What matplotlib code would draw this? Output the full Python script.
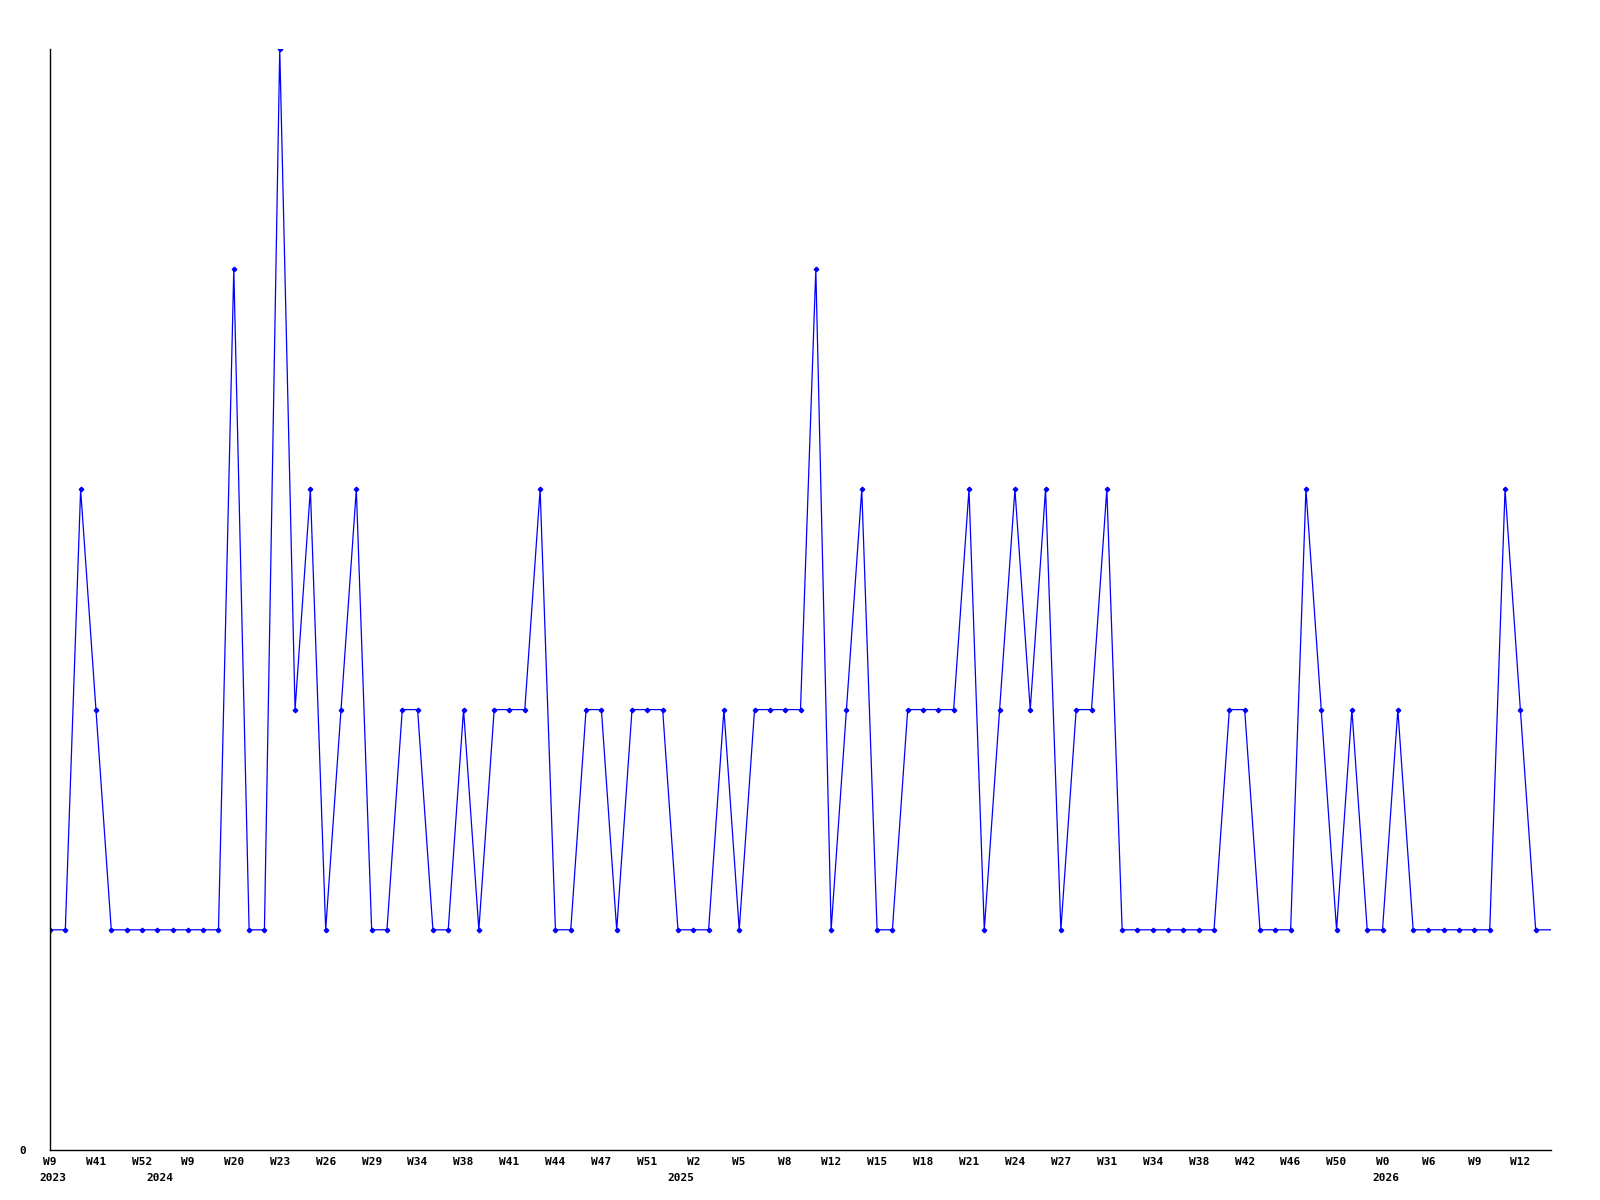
import matplotlib
matplotlib.use("Agg")
import matplotlib.pyplot as plt

# valori settimanali (l'ultimo punto chiude la linea fino al bordo, senza marker)
values = [1, 1, 3, 2, 1, 1, 1, 1, 1, 1, 1, 1, 4, 1, 1, 5, 2, 3, 1, 2,
          3, 1, 1, 2, 2, 1, 1, 2, 1, 2, 2, 2, 3, 1, 1, 2, 2, 1, 2, 2,
          2, 1, 1, 1, 2, 1, 2, 2, 2, 2, 4, 1, 2, 3, 1, 1, 2, 2, 2, 2,
          3, 1, 2, 3, 2, 3, 1, 2, 2, 3, 1, 1, 1, 1, 1, 1, 1, 2, 2, 1,
          1, 1, 3, 2, 1, 2, 1, 1, 2, 1, 1, 1, 1, 1, 1, 3, 2, 1, 1]

week_labels = ["W9", "W41", "W52", "W9", "W20", "W23", "W26", "W29", "W34",
               "W38", "W41", "W44", "W47", "W51", "W2", "W5", "W8", "W12",
               "W15", "W18", "W21", "W24", "W27", "W31", "W34", "W38",
               "W42", "W46", "W50", "W0", "W6", "W9", "W12"]
week_every = 3

year_labels = ["2023", "2024", "2025", "2026"]
year_pos = [0, 7, 41, 87]

blue = "#0000ff"
font = {"family": "DejaVu Sans Mono", "weight": "bold", "size": 8}

fig = plt.figure(figsize=(16, 12), dpi=100)
ax = fig.add_axes([50 / 1600, 50 / 1200, 1501 / 1600, 1101 / 1200])

x = list(range(len(values)))
ax.plot(x, values, color=blue, linewidth=0.9, marker="D", markersize=2.3,
        markevery=list(range(len(values) - 1)))

ax.set_xlim(0, len(values) - 1)
ax.set_ylim(0, 5)

for s in ["top", "right"]:
    ax.spines[s].set_visible(False)
ax.spines["left"].set_linewidth(1)
ax.spines["bottom"].set_linewidth(1)

ax.set_xticks(x[::week_every][:len(week_labels)])
ax.set_xticklabels(week_labels, fontdict=font)
ax.tick_params(axis="x", length=0, pad=5)

ax.set_yticks([0])
ax.set_yticklabels(["0"], fontdict=font)
ax.tick_params(axis="y", length=0, pad=17)

# etichette degli anni sotto la prima settimana di ogni anno
for lab, pos in zip(year_labels, year_pos):
    ax.text(pos + 0.2, -0.021, lab, transform=ax.get_xaxis_transform(),
            ha="center", va="top", **font)

fig.savefig("out.png", dpi=100)
